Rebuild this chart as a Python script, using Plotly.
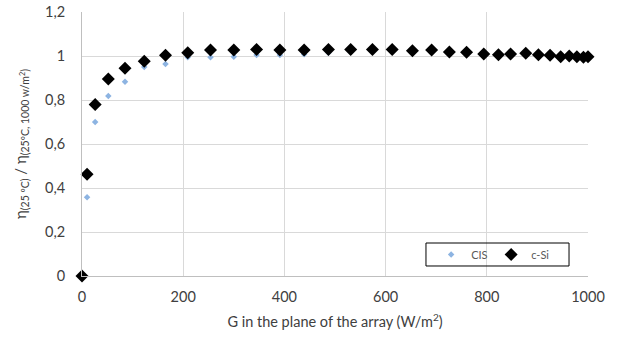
import plotly.graph_objects as go

g_vals = [0, 10, 26, 52, 85, 123, 165, 209, 254, 300, 345, 391, 439, 487, 531, 574, 613,
          653, 691, 726, 760, 794, 823, 847, 877, 902, 925, 946, 963, 978, 991, 1000]
csi_vals = [0, 0.462, 0.78, 0.895, 0.944, 0.976, 1.003, 1.015, 1.027, 1.027, 1.030, 1.027,
            1.027, 1.030, 1.030, 1.030, 1.030, 1.024, 1.027, 1.018, 1.017, 1.009, 1.006,
            1.009, 1.012, 1.006, 1.003, 0.997, 1.0, 0.997, 0.994, 0.997]
cis_vals = [0, 0.358, 0.70, 0.818, 0.883, 0.95, 0.964, 0.994, 0.994, 0.997, 1.005, 1.005,
            1.008, 1.015, 1.018, 1.02, 1.02, 1.015, 1.017, 1.01, 1.008, 1.0, 0.998, 1.0,
            1.004, 0.998, 0.995, 0.99, 0.992, 0.99, 0.987, 0.99]

y_ticks = [0, 0.2, 0.4, 0.6, 0.8, 1.0, 1.2]
x_ticks = [0, 200, 400, 600, 800, 1000]

font_family = "Lato, 'Open Sans', sans-serif"

fig = go.Figure()
fig.add_trace(go.Scatter(
    x=g_vals, y=cis_vals, mode="markers", name="CIS", cliponaxis=False,
    marker=dict(symbol="diamond", size=5, color="#8DB4E2"),
))
fig.add_trace(go.Scatter(
    x=g_vals, y=csi_vals, mode="markers", name="c-Si", cliponaxis=False,
    marker=dict(symbol="diamond", size=10, color="#000000"),
))

# legend frame (style only)
fig.add_shape(type="rect", xref="paper", yref="paper",
              x0=0.6798, x1=0.9625, y0=0.0379, y1=0.125,
              line=dict(color="#000000", width=1), fillcolor="rgba(0,0,0,0)", layer="above")

fig.update_layout(
    width=622, height=338,
    margin=dict(l=82, r=34, t=12, b=62, autoexpand=False),
    paper_bgcolor="white", plot_bgcolor="white",
    separators=", ",
    font=dict(family=font_family, size=14.5, color="#404040"),
    showlegend=True,
    legend=dict(
        x=0.69, y=0.0814, xanchor="left", yanchor="middle",
        orientation="h", bgcolor="rgba(255,255,255,0)",
        borderwidth=0,
        font=dict(size=11, color="#595959"),
        entrywidth=15, itemwidth=30,
        tracegroupgap=0,
    ),
    xaxis=dict(
        range=[0, 1000], tickvals=x_ticks, showgrid=True, gridcolor="#D9D9D9",
        gridwidth=1, showline=True, linecolor="#BFBFBF", linewidth=1,
        zeroline=False, ticks="", ticklen=0, automargin=False,
        ticklabelstandoff=8, ticklabeloverflow="allow",
        title=dict(text="G in the plane of the array (W/m<sup>2</sup>)",
                   font=dict(size=14.5, color="#404040"), standoff=12),
    ),
    yaxis=dict(
        range=[0, 1.2], tickvals=y_ticks, showgrid=True, gridcolor="#D9D9D9",
        gridwidth=1, showline=True, linecolor="#BFBFBF", linewidth=1,
        zeroline=False, ticks="", ticklen=0, automargin=False,
        ticklabelstandoff=13, ticklabeloverflow="allow",
        title=dict(text="η<sub>(25 ºC)</sub> / η<sub>(25ºC, 1000 w/m<sup>2</sup>)</sub>",
                   font=dict(size=15, color="#404040"), standoff=14),
    ),
)

fig.write_html("out.html", config={"displayModeBar": False},
               post_script="document.body.style.margin='0';")
